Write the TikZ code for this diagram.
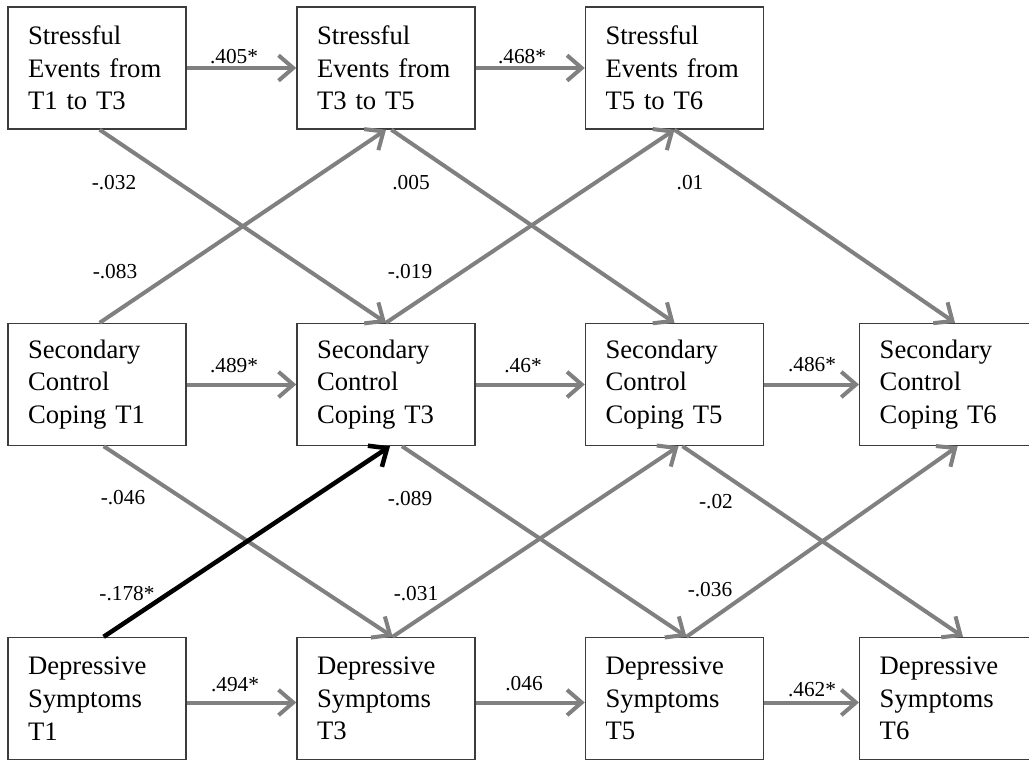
\documentclass[tikz,border=0pt]{standalone}
\usepackage{fontspec}
\setmainfont{Liberation Serif}
\usetikzlibrary{arrows.meta}
\definecolor{arrgray}{RGB}{128,128,128}
\definecolor{boxline}{RGB}{60,60,60}
\begin{document}
\begin{tikzpicture}[x=0.75pt,y=-0.75pt,
  box/.style={draw=boxline, line width=1.1pt, fill=white, minimum width=133.5pt, minimum height=91.5pt,
    text width=103.5pt, inner xsep=15pt, align=left, font=\fontsize{20}{24.5}\selectfont},
  boxwide/.style={box, minimum width=200pt, text width=170pt, anchor=west},
  pth/.style={draw=arrgray, line width=3pt, -{Straight Barb[length=11pt,width=19pt]}},
  sig/.style={draw=black, line width=3.4pt, -{Straight Barb[length=11pt,width=19pt]}},
  lab/.style={font=\fontsize{16}{18}\selectfont, inner sep=0pt}]
\clip (0,0) rectangle (1029,761);
\useasboundingbox (0,0) rectangle (1029,761);
% boxes
\node[box] (S1) at (97,68) {Stressful\\Events from\\T1 to T3};
\node[box] (S3) at (386,68) {Stressful\\Events from\\T3 to T5};
\node[box] (S5) at (674.5,68) {Stressful\\Events from\\T5 to T6};
\node[box] (C1) at (97,384.5) {Secondary\\Control\\Coping T1};
\node[box] (C3) at (386,384.5) {Secondary\\Control\\Coping T3};
\node[box] (C5) at (674.5,384.5) {Secondary\\Control\\Coping T5};
\node[boxwide] (C6) at (859,384.5) {Secondary\\Control\\Coping T6};
\node[box] (D1) at (97,698.5) {Depressive\\Symptoms\\T1};
\node[box] (D3) at (386,698.5) {Depressive\\Symptoms\\T3};
\node[box] (D5) at (674.5,698.5) {Depressive\\Symptoms\\T5};
\node[boxwide] (D6) at (859,698.5) {Depressive\\Symptoms\\T6};
% horizontal paths
\draw[pth] (S1.east) -- (S3.west);
\draw[pth] (S3.east) -- (S5.west);
\draw[pth] (C1.east) -- (C3.west);
\draw[pth] (C3.east) -- (C5.west);
\draw[pth] (C5.east) -- (C6.west);
\draw[pth] ([yshift=-3pt]D1.east) -- ([yshift=-3pt]D3.west);
\draw[pth] ([yshift=-3pt]D3.east) -- ([yshift=-3pt]D5.west);
\draw[pth] ([yshift=-3pt]D5.east) -- ([yshift=-3pt]D6.west);
% upper diagonals
\draw[pth] ([xshift=2pt]S1.south) -- (C3.north);
\draw[pth] ([xshift=2pt]C1.north) -- (S3.south);
\draw[pth] ([xshift=4pt]S3.south) -- (C5.north);
\draw[pth] (C3.north) -- (S5.south);
\draw[pth] (S5.south) -- ([xshift=72pt]C6.north west);
% lower diagonals
\draw[pth] ([xshift=5pt]C1.south) -- ([xshift=5pt]D3.north);
\draw[pth] ([xshift=12pt]C3.south) -- ([xshift=9pt]D5.north);
\draw[pth] ([xshift=5pt]D3.north) -- ([xshift=3pt]C5.south);
\draw[pth] ([xshift=6pt]C5.south) -- ([xshift=78pt]D6.north west);
\draw[pth] ([xshift=9pt]D5.north) -- ([xshift=74pt]C6.south west);
\draw[sig] ([xshift=5pt]D1.north) -- ([xshift=3pt]C3.south);
% labels
\node[lab] (l1) at (234,57) {.405*};
\node[lab] (l2) at (522,57) {.468*};
\node[lab] (l3) at (114,183) {-.032};
\node[lab] (l4) at (411,183) {.005};
\node[lab] (l5) at (690,183) {.01};
\node[lab] (l6) at (115,272) {-.083};
\node[lab] (l7) at (410,272) {-.019};
\node[lab] (l8) at (234,366) {.489*};
\node[lab] (l9) at (523,366) {.46*};
\node[lab] (l10) at (812,365) {.486*};
\node[lab] (l11) at (123,498) {-.046};
\node[lab] (l12) at (410,499) {-.089};
\node[lab] (l13) at (716,502) {-.02};
\node[lab] (l14) at (127,594) {-.178*};
\node[lab] (l15) at (416,594) {-.031};
\node[lab] (l16) at (710,590) {-.036};
\node[lab] (l17) at (235,685) {.494*};
\node[lab] (l18) at (524,684) {.046};
\node[lab] (l19) at (812,690) {.462*};
\end{tikzpicture}
\end{document}
